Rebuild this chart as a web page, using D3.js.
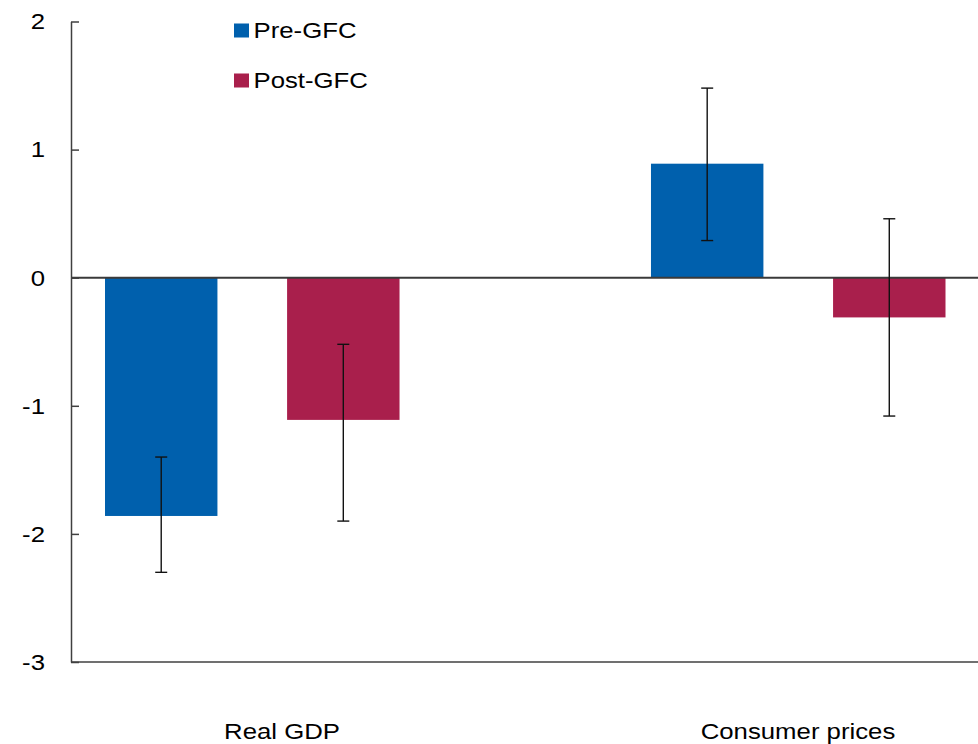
<!DOCTYPE html>
<html>
<head>
<meta charset="utf-8">
<script src="https://cdn.jsdelivr.net/npm/d3@7"></script>
<style>
  html, body { margin: 0; padding: 0; background: #fff; }
  svg { display: block; font-family: "Liberation Sans", Arial, sans-serif; }
</style>
</head>
<body>
<svg id="chart" width="978" height="744"></svg>
<script>
// Categories and series
const categories = ["Real GDP", "Consumer prices"];
const seriesNames = ["Pre-GFC", "Post-GFC"];
const seriesColors = ["#0060AD", "#A91F4C"];

// Point estimates (per series, per category)
const preGFC = [-1.86, 0.89];
const postGFC = [-1.11, -0.31];

// Confidence band bounds (upper, lower)
const preGFCUpper = [-1.40, 1.48];
const preGFCLower = [-2.30, 0.29];
const postGFCUpper = [-0.52, 0.46];
const postGFCLower = [-1.90, -1.08];

const yTicks = [2, 1, 0, -1, -2, -3];

const rows = [];
categories.forEach((c, i) => {
  rows.push({ cat: c, series: seriesNames[0], value: preGFC[i], hi: preGFCUpper[i], lo: preGFCLower[i] });
  rows.push({ cat: c, series: seriesNames[1], value: postGFC[i], hi: postGFCUpper[i], lo: postGFCLower[i] });
});

const svg = d3.select("#chart");
const plotLeft = 71, plotRight = 978;
const stretch = 1.12; // text is drawn slightly wide
const fontSize = 23;

const y = d3.scaleLinear().domain([-3, 2]).range([662, 21.5]);

const x0 = d3.scaleBand().domain(categories).range([105, 945.5]).paddingInner(251 / 545).paddingOuter(0);
const x1 = d3.scaleBand().domain(seriesNames).range([0, x0.bandwidth()]).paddingInner(70 / 183).paddingOuter(0);
const labelX = d3.scalePoint().domain(categories).range([282, 798]);
const color = d3.scaleOrdinal().domain(seriesNames).range(seriesColors);

// Bars
svg.append("g").selectAll("rect").data(rows).join("rect")
  .attr("x", d => x0(d.cat) + x1(d.series))
  .attr("width", x1.bandwidth())
  .attr("y", d => y(Math.max(0, d.value)))
  .attr("height", d => Math.abs(y(d.value) - y(0)))
  .attr("fill", d => color(d.series));

// Zero line
svg.append("line")
  .attr("x1", plotLeft).attr("x2", plotRight)
  .attr("y1", y(0)).attr("y2", y(0))
  .attr("stroke", "#3a3a3a").attr("stroke-width", 2);

// Bottom axis line
svg.append("line")
  .attr("x1", plotLeft).attr("x2", plotRight)
  .attr("y1", y(-3)).attr("y2", y(-3))
  .attr("stroke", "#404040").attr("stroke-width", 1.5);

// Y axis with inward ticks
const yAxis = d3.axisLeft(y).tickValues(yTicks).tickSizeInner(-8).tickSizeOuter(0).tickPadding(26)
  .tickFormat(d3.format("d"));
const ga = svg.append("g").attr("transform", `translate(${plotLeft},0)`).call(yAxis);
ga.select(".domain").attr("stroke", "#404040").attr("stroke-width", 1.5);
ga.selectAll(".tick line").attr("stroke", "#404040").attr("stroke-width", 1.5);
ga.selectAll(".tick text")
  .attr("x", 0)
  .attr("transform", `translate(-26,0) scale(${stretch},1)`)
  .attr("font-size", fontSize)
  .attr("font-family", "Liberation Sans, Arial, sans-serif")
  .attr("fill", "#000")
  .text(d => d < 0 ? "-" + Math.abs(d) : d);

// Error bars
const eb = svg.append("g").attr("stroke", "#111").attr("stroke-width", 1.4);
rows.forEach(d => {
  const cx = x0(d.cat) + x1(d.series) + x1.bandwidth() / 2;
  eb.append("line").attr("x1", cx).attr("x2", cx).attr("y1", y(d.hi)).attr("y2", y(d.lo));
  eb.append("line").attr("x1", cx - 6).attr("x2", cx + 6).attr("y1", y(d.hi)).attr("y2", y(d.hi));
  eb.append("line").attr("x1", cx - 6).attr("x2", cx + 6).attr("y1", y(d.lo)).attr("y2", y(d.lo));
});

// Category labels
svg.append("g").selectAll("text").data(categories).join("text")
  .attr("transform", d => `translate(${labelX(d)},738.5) scale(${stretch},1)`)
  .attr("text-anchor", "middle")
  .attr("font-size", fontSize)
  .attr("fill", "#000")
  .text(d => d);

// Legend
const legend = svg.append("g");
seriesNames.forEach((s, i) => {
  const top = 23.5 + i * 50;
  legend.append("rect").attr("x", 234).attr("y", top).attr("width", 15).attr("height", 14).attr("fill", color(s));
  legend.append("text")
    .attr("transform", `translate(253.5,${top + 14.5}) scale(${stretch},1)`)
    .attr("font-size", fontSize)
    .attr("fill", "#000")
    .text(s);
});
</script>
</body>
</html>
